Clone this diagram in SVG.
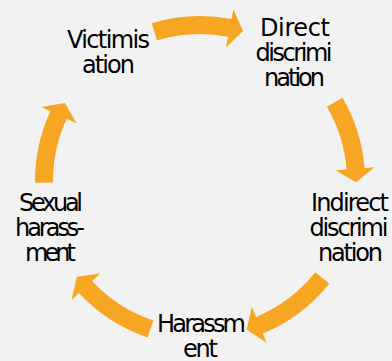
<svg xmlns="http://www.w3.org/2000/svg" width="392" height="361" viewBox="0 0 392 361">
<style>
.bg{fill:#f2f2f2}
.arrow{fill:#f6a623;stroke:none}
.lbl{font-family:"DejaVu Sans",sans-serif;font-size:24px;fill:#000;text-anchor:middle}
</style>
<rect class="bg" x="0" y="0" width="392" height="361"/>
<g id="connectors">
<path class="arrow" d="M151.76,23.21 A165,165 0 0 1 231.48,19.03 L233.39,9.21 L243.00,31.04 L225.95,47.50 L228.05,36.70 A147,147 0 0 0 157.02,40.42 Z"/>
<path class="arrow" d="M342.46,97.75 A165,165 0 0 1 364.49,168.05 L374.46,167.27 L355.99,182.36 L335.58,170.33 L346.55,169.47 A147,147 0 0 0 326.92,106.83 Z"/>
<path class="arrow" d="M329.31,283.49 A165,165 0 0 1 262.88,333.55 L266.69,342.80 L246.65,329.86 L251.83,306.74 L256.02,316.91 A147,147 0 0 0 315.20,272.31 Z"/>
<path class="arrow" d="M147.65,337.47 A165,165 0 0 1 78.93,293.11 L71.60,299.90 L76.90,276.83 L100.21,273.40 L92.14,280.88 A147,147 0 0 0 153.36,320.40 Z"/>
<path class="arrow" d="M35.01,182.73 A165,165 0 0 1 50.46,111.27 L41.40,107.04 L64.90,103.00 L76.74,123.52 L66.77,118.87 A147,147 0 0 0 53.01,182.54 Z"/>
</g>
<g id="node-victimisation">
<text class="lbl" x="108.5" y="48" textLength="83" lengthAdjust="spacing">Victimis</text>
<text class="lbl" x="108.5" y="73" textLength="53" lengthAdjust="spacing">ation</text>
</g>
<g id="node-direct">
<text class="lbl" x="295" y="36" textLength="70" lengthAdjust="spacing">Direct</text>
<text class="lbl" x="294" y="61" textLength="77" lengthAdjust="spacing">discrimi</text>
<text class="lbl" x="294.5" y="86" textLength="61" lengthAdjust="spacing">nation</text>
</g>
<g id="node-indirect">
<text class="lbl" x="350" y="211" textLength="78" lengthAdjust="spacing">Indirect</text>
<text class="lbl" x="349" y="236" textLength="79" lengthAdjust="spacing">discrimi</text>
<text class="lbl" x="350.5" y="261" textLength="65" lengthAdjust="spacing">nation</text>
</g>
<g id="node-harassment">
<text class="lbl" x="201.5" y="332" textLength="89" lengthAdjust="spacing">Harassm</text>
<text class="lbl" x="200.5" y="357" textLength="35" lengthAdjust="spacing">ent</text>
</g>
<g id="node-sexual">
<text class="lbl" x="51" y="211" textLength="64" lengthAdjust="spacing">Sexual</text>
<text class="lbl" x="50" y="236" textLength="70" lengthAdjust="spacing">harass-</text>
<text class="lbl" x="50.5" y="261" textLength="51" lengthAdjust="spacing">ment</text>
</g>
</svg>
